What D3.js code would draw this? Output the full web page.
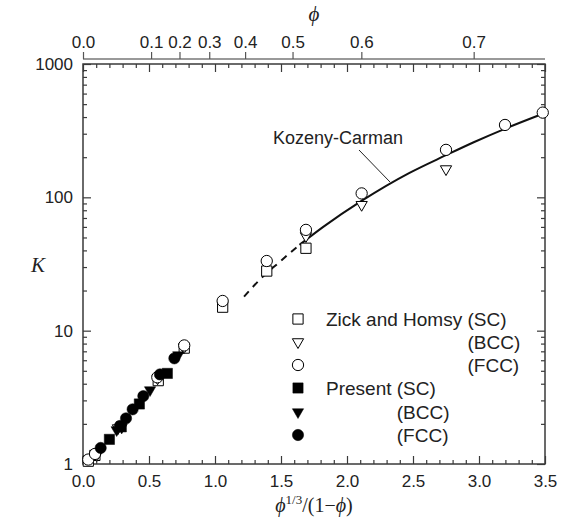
<!DOCTYPE html>
<html>
<head>
<meta charset="utf-8">
<script src="https://cdn.jsdelivr.net/npm/d3@7"></script>
<style>
  html, body { margin: 0; padding: 0; background: #fff; }
  svg { display: block; }
  text { font-family: "Liberation Sans", Arial, Helvetica, sans-serif; fill: #222; }
</style>
</head>
<body>
<svg id="chart" width="565" height="522"></svg>
<script>
// ---------------- data ----------------
const xMajorTicks = [0, 0.5, 1.0, 1.5, 2.0, 2.5, 3.0, 3.5];
const xMinorTicks = [0.1,0.2,0.3,0.4,0.6,0.7,0.8,0.9,1.1,1.2,1.3,1.4,1.6,1.7,1.8,1.9,2.1,2.2,2.3,2.4,2.6,2.7,2.8,2.9,3.1,3.2,3.3,3.4];
const yMajorTicks = [1, 10, 100, 1000];
const yMinorTicks = [2,3,4,5,6,7,8,9,20,30,40,50,60,70,80,90,200,300,400,500,600,700,800,900];
const phiTickLabels = ["0.0", "0.1", "0.2", "0.3", "0.4", "0.5", "0.6", "0.7"];
const phiTickValues = [0.0, 0.1, 0.2, 0.3, 0.4, 0.5, 0.6, 0.7];

// Zick and Homsy (open symbols)
const zickSC_x  = [0.04, 0.09, 0.57, 0.767, 1.058, 1.392, 1.689];
const zickSC_K  = [1.05, 1.16, 4.22, 7.4, 15.0, 28.0, 41.5];
const zickBCC_x = [0.104, 0.265, 0.565, 0.765, 1.689, 2.111, 2.75];
const zickBCC_K = [1.17, 1.86, 4.4, 7.5, 51.3, 88, 163];
const zickFCC_x = [0.04, 0.091, 0.563, 0.767, 1.058, 1.392, 1.689, 2.111, 2.75, 3.197, 3.483];
const zickFCC_K = [1.08, 1.19, 4.47, 7.75, 16.7, 33.3, 57, 107, 227, 349, 432];

// Present (filled symbols)
const presSC_x  = [0.2, 0.29, 0.427, 0.639];
const presSC_K  = [1.53, 1.9, 2.82, 4.78];
const presBCC_x = [0.255, 0.293, 0.508, 0.722];
const presBCC_K = [1.80, 1.88, 3.59, 6.57];
const presFCC_x = [0.134, 0.28, 0.326, 0.376, 0.457, 0.583, 0.692];
const presFCC_K = [1.32, 1.93, 2.20, 2.57, 3.23, 4.70, 6.2];

// Kozeny-Carman curve
const kcDash_x  = [1.22, 1.39, 1.47, 1.59, 1.64];
const kcDash_K  = [18, 27, 31.5, 40, 44];
const kcSolid_x = [1.64, 1.82, 2.11, 2.47, 2.75, 2.96, 3.20, 3.48];
const kcSolid_K = [44, 60, 94, 152, 207, 259, 328, 422];

// ---------------- layout ----------------
const svg = d3.select("#chart");
const L = 83, R = 545, T = 64, B = 464;
const x = d3.scaleLinear().domain([0, 3.5]).range([L, R]);
const y = d3.scaleLog().domain([1, 1000]).range([B, T]);
const frameColor = "#3a3a3a";
const PHI = "\u03D5";
const serif = '"Liberation Serif", "Times New Roman", serif';

// phi -> abscissa value
const phiToX = p => Math.cbrt(p) / (1 - p);

function styleAxis(g, fontSize) {
  g.select(".domain").remove();
  g.selectAll(".tick line").attr("stroke", frameColor).attr("stroke-width", 1.2);
  g.selectAll(".tick text").attr("font-size", fontSize)
    .attr("font-family", '"Liberation Sans", Arial, sans-serif').attr("fill", "#222");
}

// bottom axis
const gB = svg.append("g").attr("transform", `translate(0,${B})`)
  .call(d3.axisBottom(x).tickValues(xMajorTicks).tickSize(-8).tickPadding(11).tickFormat(d3.format(".1f")));
styleAxis(gB, 17);
const gBm = svg.append("g").attr("transform", `translate(0,${B})`)
  .call(d3.axisBottom(x).tickValues(xMinorTicks).tickSize(-4).tickFormat(""));
styleAxis(gBm, 17);
// top frame axis
const gT = svg.append("g").attr("transform", `translate(0,${T})`)
  .call(d3.axisTop(x).tickValues(xMajorTicks).tickSize(-8).tickFormat(""));
styleAxis(gT, 17);
const gTm = svg.append("g").attr("transform", `translate(0,${T})`)
  .call(d3.axisTop(x).tickValues(xMinorTicks).tickSize(-4).tickFormat(""));
styleAxis(gTm, 17);
// left axis
const gL = svg.append("g").attr("transform", `translate(${L},0)`)
  .call(d3.axisLeft(y).tickValues(yMajorTicks).tickSize(-8).tickPadding(10).tickFormat(d3.format("d")));
styleAxis(gL, 17);
const gLm = svg.append("g").attr("transform", `translate(${L},0)`)
  .call(d3.axisLeft(y).tickValues(yMinorTicks).tickSize(-4).tickFormat(""));
styleAxis(gLm, 17);
// right axis
const gR = svg.append("g").attr("transform", `translate(${R},0)`)
  .call(d3.axisRight(y).tickValues(yMajorTicks).tickSize(-8).tickFormat(""));
styleAxis(gR, 17);
const gRm = svg.append("g").attr("transform", `translate(${R},0)`)
  .call(d3.axisRight(y).tickValues(yMinorTicks).tickSize(-4).tickFormat(""));
styleAxis(gRm, 17);

// frame
svg.append("rect").attr("x", L).attr("y", T).attr("width", R - L).attr("height", B - T)
  .attr("fill", "none").attr("stroke", frameColor).attr("stroke-width", 1.5);

// phi axis on top
const phiY = 59;
const gP = svg.append("g").attr("transform", `translate(0,${phiY})`)
  .call(d3.axisTop(x).tickValues(phiTickValues.map(phiToX)).tickSize(7).tickPadding(4)
    .tickFormat((d, i) => phiTickLabels[i]));
gP.select(".domain").attr("stroke", "#777").attr("stroke-width", 1.5).attr("d", `M${L},0H${R}`);
gP.selectAll(".tick line").attr("stroke", "#555").attr("stroke-width", 1.2);
gP.selectAll(".tick text").attr("font-size", 17).attr("fill", "#222")
  .attr("font-family", '"Liberation Sans", Arial, sans-serif');

// axis titles
svg.append("text").attr("x", x(1.75)).attr("y", 21).attr("text-anchor", "middle")
  .style("font-family", serif).style("font-style", "italic")
  .attr("font-size", 21).text(PHI);
svg.append("text").attr("x", 38).attr("y", 272).attr("text-anchor", "middle")
  .style("font-family", serif).style("font-style", "italic")
  .attr("font-size", 21).text("K");
const xt = svg.append("text").attr("x", x(1.75)).attr("y", 512).attr("text-anchor", "middle")
  .style("font-family", serif).attr("font-size", 20);
xt.append("tspan").style("font-style", "italic").text(PHI);
xt.append("tspan").attr("font-size", 13).attr("dy", -8).text("1/3");
xt.append("tspan").attr("dy", 8).text("/(1−");
xt.append("tspan").style("font-style", "italic").text(PHI);
xt.append("tspan").text(")");

// Kozeny-Carman curve
const line = d3.line().x(d => x(d[0])).y(d => y(d[1])).curve(d3.curveMonotoneX);
svg.append("path").datum(kcDash_x.map((v, i) => [v, kcDash_K[i]]))
  .attr("d", line).attr("fill", "none").attr("stroke", "#111").attr("stroke-width", 2)
  .attr("stroke-dasharray", "7,6");
svg.append("path").datum(kcSolid_x.map((v, i) => [v, kcSolid_K[i]]))
  .attr("d", line).attr("fill", "none").attr("stroke", "#111").attr("stroke-width", 2);

// KC label + leader
svg.append("text").attr("x", 273).attr("y", 144).attr("font-size", 18).text("Kozeny-Carman");
svg.append("line").attr("x1", 359).attr("y1", 150).attr("x2", 390).attr("y2", 182)
  .attr("stroke", "#222").attr("stroke-width", 1);

// symbols
const sqSym = d3.symbol().type(d3.symbolSquare).size(105);
const ciSym = d3.symbol().type(d3.symbolCircle).size(100);
const trSym = d3.symbol().type(d3.symbolTriangle).size(55);

function drawSeries(xs, ks, sym, filled, rotate) {
  svg.append("g").selectAll("path").data(xs.map((v, i) => [v, ks[i]])).join("path")
    .attr("d", sym)
    .attr("transform", d => `translate(${x(d[0])},${y(d[1])})${rotate ? " rotate(180)" : ""}`)
    .attr("fill", filled ? "#000" : "#fff")
    .attr("stroke", "#000").attr("stroke-width", filled ? 0.5 : 1);
}
drawSeries(zickSC_x, zickSC_K, sqSym, false, false);
drawSeries(zickBCC_x, zickBCC_K, trSym, false, true);
drawSeries(zickFCC_x, zickFCC_K, ciSym, false, false);
drawSeries(presSC_x, presSC_K, sqSym, true, false);
drawSeries(presBCC_x, presBCC_K, trSym, true, true);
drawSeries(presFCC_x, presFCC_K, ciSym, true, false);

// legend
const legRows = [
  {sym: sqSym, filled: false, rot: false, y: 319},
  {sym: trSym, filled: false, rot: true,  y: 342},
  {sym: ciSym, filled: false, rot: false, y: 365},
  {sym: sqSym, filled: true,  rot: false, y: 388},
  {sym: trSym, filled: true,  rot: true,  y: 412},
  {sym: ciSym, filled: true,  rot: false, y: 435}
];
const legX = 298, legTX = 326, legFS = 19;
legRows.forEach(r => {
  svg.append("path").attr("d", r.sym)
    .attr("transform", `translate(${legX},${r.y})${r.rot ? " rotate(180)" : ""}`)
    .attr("fill", r.filled ? "#000" : "#fff").attr("stroke", "#000").attr("stroke-width", r.filled ? 0.5 : 1);
});
const measure = s => {
  const t = svg.append("text").attr("font-size", legFS).text(s);
  const w = t.node().getComputedTextLength(); t.remove(); return w;
};
const zPre = measure("Zick and Homsy\u00a0");
const pPre = measure("Present\u00a0");
const legText = (tx, ty, s) => svg.append("text").attr("x", tx).attr("y", ty + 7).attr("font-size", legFS).text(s);
legText(legTX, 319, "Zick and Homsy (SC)");
legText(legTX + zPre, 342, "(BCC)");
legText(legTX + zPre, 365, "(FCC)");
legText(legTX, 388, "Present (SC)");
legText(legTX + pPre, 412, "(BCC)");
legText(legTX + pPre, 435, "(FCC)");
</script>
</body>
</html>
